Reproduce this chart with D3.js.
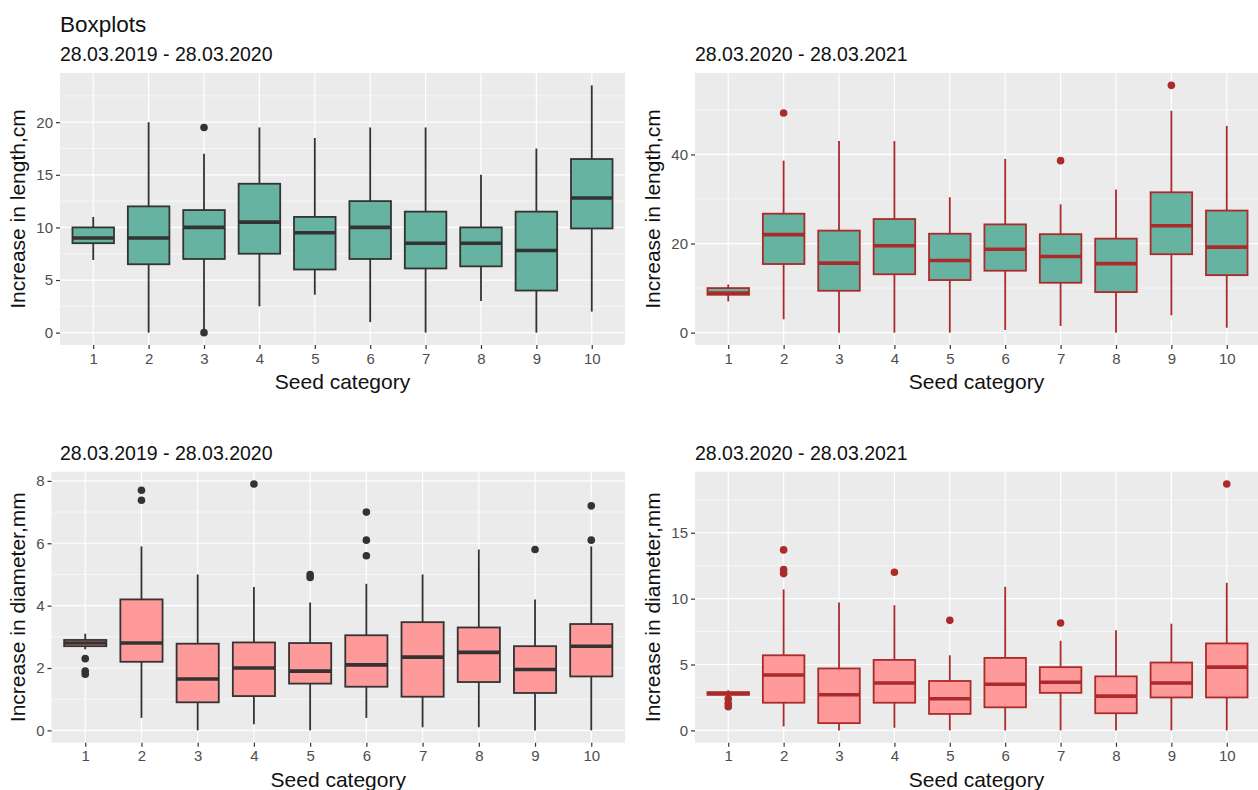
<!DOCTYPE html>
<html>
<head>
<meta charset="utf-8">
<script src="https://cdn.jsdelivr.net/npm/d3@7"></script>
<style>
  body { margin: 0; background: #fff; }
  text { font-family: "Liberation Sans", Arial, sans-serif; }
</style>
</head>
<body>
<div id="chart"></div>
<script>
// Seed categories shared by all four panels
const categories = ["1", "2", "3", "4", "5", "6", "7", "8", "9", "10"];

// Box stats per category: [lower whisker, Q1, median, Q3, upper whisker]
const lengthA = [
  [6.9, 8.5, 9.0, 10.0, 11.0], [0, 6.5, 9.0, 12.0, 20.0], [0.3, 7.0, 10.0, 11.65, 17.0],
  [2.5, 7.5, 10.5, 14.15, 19.5], [3.6, 6.0, 9.5, 11.0, 18.5], [1.0, 7.0, 10.0, 12.5, 19.5],
  [0, 6.1, 8.5, 11.5, 19.5], [3.0, 6.3, 8.5, 10.0, 15.0], [0, 4.0, 7.8, 11.5, 17.5],
  [2.0, 9.9, 12.8, 16.5, 23.5]
];
const lengthAOut = [["3", 19.5], ["3", 0]];

const lengthB = [
  [7.0, 8.5, 8.9, 10.0, 10.8], [3.0, 15.4, 22.0, 26.7, 38.6], [0, 9.4, 15.6, 22.9, 43.0],
  [0, 13.1, 19.5, 25.5, 43.0], [0, 11.8, 16.2, 22.2, 30.4], [0.6, 13.9, 18.7, 24.3, 39.0],
  [1.5, 11.2, 17.1, 22.1, 28.8], [0, 9.1, 15.5, 21.1, 32.1], [3.9, 17.6, 24.0, 31.5, 49.8],
  [1.1, 12.9, 19.2, 27.4, 46.4]
];
const lengthBOut = [["2", 49.3], ["7", 38.6], ["9", 55.5]];

const diamA = [
  [2.6, 2.7, 2.8, 2.9, 3.1], [0.4, 2.2, 2.8, 4.2, 5.9], [0, 0.9, 1.65, 2.78, 5.0],
  [0.2, 1.1, 2.0, 2.82, 4.6], [0, 1.5, 1.9, 2.8, 4.1], [0.4, 1.4, 2.1, 3.05, 4.7],
  [0.1, 1.08, 2.35, 3.47, 5.0], [0.1, 1.55, 2.5, 3.3, 5.8], [0, 1.2, 1.95, 2.7, 4.2],
  [0, 1.73, 2.7, 3.41, 5.9]
];
const diamAOut = [
  ["1", 2.3], ["1", 1.9], ["1", 1.8], ["2", 7.7], ["2", 7.38], ["4", 7.9],
  ["5", 5.0], ["5", 4.9], ["6", 7.0], ["6", 6.1], ["6", 5.6], ["9", 5.8],
  ["10", 7.2], ["10", 6.1]
];

const diamB = [
  [2.6, 2.7, 2.8, 2.9, 3.05], [0.3, 2.1, 4.2, 5.7, 10.7], [0, 0.55, 2.7, 4.7, 9.7],
  [0.2, 2.1, 3.6, 5.35, 9.5], [0, 1.25, 2.4, 3.75, 5.7], [0, 1.75, 3.5, 5.5, 10.9],
  [0, 2.85, 3.65, 4.8, 6.8], [0, 1.3, 2.6, 4.1, 7.6], [0, 2.5, 3.6, 5.15, 8.1],
  [0, 2.5, 4.8, 6.6, 11.2]
];
const diamBOut = [
  ["1", 2.4], ["1", 2.05], ["1", 1.8], ["2", 13.7], ["2", 12.2], ["2", 11.9],
  ["4", 12.0], ["5", 8.35], ["7", 8.15], ["10", 18.7]
];

// Tick values for each panel
const ticksLenA = [0, 5, 10, 15, 20];
const ticksLenB = [0, 20, 40];
const ticksDiamA = [0, 2, 4, 6, 8];
const ticksDiamB = [0, 5, 10, 15];

const W = 1258, H = 790;
const teal = "#67b3a1", pink = "#ff9a9a", dark = "#333333", red = "#ab2a2a";

const svg = d3.select("#chart").append("svg")
  .attr("width", W).attr("height", H);

svg.append("text")
  .attr("x", 60).attr("y", 32)
  .style("font-size", "22.5px").style("fill", "#111")
  .text("Boxplots");

const panels = [
  {stats: lengthA, out: lengthAOut, ticks: ticksLenA, left: 60, right: 625, top: 73, bottom: 345,
   fill: teal, stroke: dark, sub: "28.03.2019 - 28.03.2020", ylab: "Increase in length,cm", labX: 25, subX: 60},
  {stats: lengthB, out: lengthBOut, ticks: ticksLenB, left: 695, right: 1260, top: 73, bottom: 345,
   fill: teal, stroke: red, sub: "28.03.2020 - 28.03.2021", ylab: "Increase in length,cm", labX: 660, subX: 695},
  {stats: diamA, out: diamAOut, ticks: ticksDiamA, left: 51.5, right: 625, top: 471.7, bottom: 742.7,
   fill: pink, stroke: dark, sub: "28.03.2019 - 28.03.2020", ylab: "Increase in diameter,mm", labX: 25, subX: 60},
  {stats: diamB, out: diamBOut, ticks: ticksDiamB, left: 695, right: 1260, top: 471.7, bottom: 742.7,
   fill: pink, stroke: red, sub: "28.03.2020 - 28.03.2021", ylab: "Increase in diameter,mm", labX: 660, subX: 695}
];

panels.forEach(p => drawPanel(p));

function drawPanel(p) {
  const allVals = p.stats.flat().concat(p.out.map(d => d[1]));
  const lo = d3.min(allVals), hi = d3.max(allVals);
  const pad = (hi - lo) * 0.05;

  const x = d3.scalePoint().domain(categories).range([p.left, p.right]).padding(0.6);
  const y = d3.scaleLinear().domain([lo - pad, hi + pad]).range([p.bottom, p.top]);
  const bw = x.step() * 0.75;

  const g = svg.append("g");

  // Panel background
  g.append("rect")
    .attr("x", p.left).attr("y", p.top)
    .attr("width", p.right - p.left).attr("height", p.bottom - p.top)
    .attr("fill", "#ebebeb");

  // Minor grid lines half way between ticks
  const step = p.ticks[1] - p.ticks[0];
  const minor = [];
  for (let v = p.ticks[0] + step / 2; v < y.domain()[1]; v += step) minor.push(v);
  g.selectAll(".minor").data(minor).join("line")
    .attr("x1", p.left).attr("x2", p.right)
    .attr("y1", d => y(d)).attr("y2", d => y(d))
    .attr("stroke", "#fff").attr("stroke-width", 0.6);

  g.selectAll(".major").data(p.ticks).join("line")
    .attr("x1", p.left).attr("x2", p.right)
    .attr("y1", d => y(d)).attr("y2", d => y(d))
    .attr("stroke", "#fff").attr("stroke-width", 1.2);

  g.selectAll(".vgrid").data(categories).join("line")
    .attr("x1", d => x(d)).attr("x2", d => x(d))
    .attr("y1", p.top).attr("y2", p.bottom)
    .attr("stroke", "#fff").attr("stroke-width", 1.2);

  // Axes
  const yAxis = g.append("g")
    .attr("transform", `translate(${p.left},0)`)
    .call(d3.axisLeft(y).tickValues(p.ticks).tickSize(4).tickPadding(3));
  const xAxis = g.append("g")
    .attr("transform", `translate(0,${p.bottom})`)
    .call(d3.axisBottom(x).tickSize(4).tickPadding(4));
  [yAxis, xAxis].forEach(a => {
    a.select(".domain").remove();
    a.selectAll(".tick line").attr("stroke", "#333").attr("stroke-width", 1.2);
    a.selectAll(".tick text").attr("fill", "#4d4d4d")
      .style("font-size", "15px").style("font-family", "'Liberation Sans', Arial, sans-serif");
  });

  // Boxes
  const boxes = g.append("g").selectAll("g").data(p.stats).join("g");
  boxes.append("line")
    .attr("x1", (d, i) => x(categories[i])).attr("x2", (d, i) => x(categories[i]))
    .attr("y1", d => y(d[4])).attr("y2", d => y(d[3]))
    .attr("stroke", p.stroke).attr("stroke-width", 1.8);
  boxes.append("line")
    .attr("x1", (d, i) => x(categories[i])).attr("x2", (d, i) => x(categories[i]))
    .attr("y1", d => y(d[1])).attr("y2", d => y(d[0]))
    .attr("stroke", p.stroke).attr("stroke-width", 1.8);
  boxes.append("rect")
    .attr("x", (d, i) => x(categories[i]) - bw / 2)
    .attr("width", bw)
    .attr("y", d => y(d[3]))
    .attr("height", d => y(d[1]) - y(d[3]))
    .attr("fill", p.fill)
    .attr("stroke", p.stroke).attr("stroke-width", 1.8);
  boxes.append("line")
    .attr("x1", (d, i) => x(categories[i]) - bw / 2).attr("x2", (d, i) => x(categories[i]) + bw / 2)
    .attr("y1", d => y(d[2])).attr("y2", d => y(d[2]))
    .attr("stroke", p.stroke).attr("stroke-width", 3.6);

  // Outliers
  g.append("g").selectAll("circle").data(p.out).join("circle")
    .attr("cx", d => x(d[0])).attr("cy", d => y(d[1]))
    .attr("r", 3.8).attr("fill", p.stroke);

  // Titles
  g.append("text")
    .attr("x", p.subX).attr("y", p.top - 12)
    .style("font-size", "19.5px").style("fill", "#111")
    .text(p.sub);

  g.append("text")
    .attr("text-anchor", "middle")
    .attr("x", (p.left + Math.min(p.right, W)) / 2)
    .attr("y", p.bottom + 44)
    .style("font-size", "21px").style("fill", "#111")
    .text("Seed category");

  g.append("text")
    .attr("text-anchor", "middle")
    .attr("transform", `translate(${p.labX},${(p.top + p.bottom) / 2}) rotate(-90)`)
    .style("font-size", "21px").style("fill", "#111")
    .text(p.ylab);
}
</script>
</body>
</html>
